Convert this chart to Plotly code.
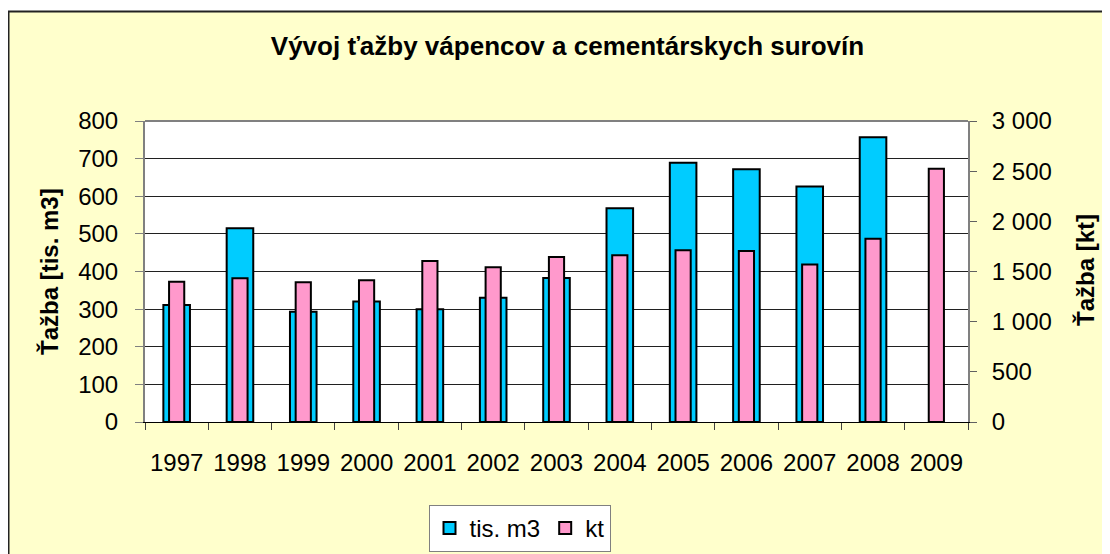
import plotly.graph_objects as go

years = ["1997", "1998", "1999", "2000", "2001", "2002", "2003",
         "2004", "2005", "2006", "2007", "2008", "2009"]
tis_m3 = [311, 515, 293, 320, 300, 330, 383, 568, 689, 672, 626, 757, None]
kt = [1398, 1432, 1392, 1412, 1605, 1542, 1645, 1661, 1711, 1704, 1571, 1827, 2525]

title_text = "Vývoj ťažby vápencov a cementárskych surovín"
left_title = "Ťažba [tis. m3]"
right_title = "Ťažba [kt]"

FONT = "Liberation Sans, Arial, sans-serif"
W, H = 1110, 554
OFF = 8  # page body margin
# plot area in screenshot pixels: x 145..968, y 121..422
L = 145 - OFF
R = W - (968 - OFF)
T = 121 - OFF
B = H - (422 - OFF)
pw, ph = W - L - R, H - T - B

def px_x(p):
    return (p - OFF - L) / pw

def px_y(p):
    return (H - B - (p - OFF)) / ph

fig = go.Figure()
fig.add_trace(go.Bar(
    x=years, y=tis_m3, name="tis. m3", yaxis="y", width=0.42,
    marker=dict(color="#00CCFF", line=dict(color="#000000", width=2)),
))
fig.add_trace(go.Bar(
    x=years, y=kt, name="kt", yaxis="y2", width=0.24,
    marker=dict(color="#FF99CC", line=dict(color="#000000", width=2)),
))

fig.update_layout(
    width=W, height=H,
    margin=dict(l=L, r=R, t=T, b=B, autoexpand=False),
    paper_bgcolor="white", plot_bgcolor="white",
    barmode="overlay",
    separators=", ",
    font=dict(family=FONT, size=24, color="black"),
    title=dict(text="<b>" + title_text + "</b>", x=(567.5 - OFF) / W, xanchor="center",
               y=1 - (46 - OFF) / H, yanchor="middle",
               font=dict(family=FONT, size=26, color="black")),
    xaxis=dict(type="category", tickson="boundaries", ticks="outside", ticklen=7,
               tickcolor="#404040", showline=True, linecolor="#000000", linewidth=1,
               showgrid=False, tickfont=dict(size=24), ticklabelstandoff=19),
    yaxis=dict(range=[0, 800], dtick=100, ticks="outside", ticklen=8,
               tickcolor="#808080", showline=True, linecolor="#808080", linewidth=2,
               showgrid=True, gridcolor="#202020", gridwidth=1, zeroline=False,
               tickfont=dict(size=24), ticklabelstandoff=12),
    yaxis2=dict(range=[0, 3000], dtick=500, overlaying="y", side="right",
                ticks="outside", ticklen=7, tickcolor="#606060",
                showline=True, linecolor="#808080", linewidth=2, showgrid=False,
                zeroline=False, separatethousands=True,
                tickfont=dict(size=24), ticklabelstandoff=10),
    showlegend=True,
    legend=dict(orientation="h", x=px_x(519.5), xanchor="center",
                y=px_y(505), yanchor="top", bgcolor="white",
                bordercolor="#808080", borderwidth=1,
                font=dict(size=24), itemwidth=30, traceorder="normal"),
    shapes=[
        dict(type="rect", xref="paper", yref="paper", layer="below",
             x0=px_x(8.5), x1=px_x(1130), y0=px_y(575), y1=px_y(11.5),
             fillcolor="#FFFFCC", line=dict(color="#222222", width=2)),
        dict(type="rect", xref="paper", yref="paper", layer="below",
             x0=0, x1=1, y0=0, y1=1, fillcolor="white", line=dict(width=0)),
        dict(type="line", xref="paper", yref="paper", x0=0, x1=1, y0=1, y1=1,
             line=dict(color="#808080", width=2)),
    ],
    annotations=[
        dict(text="<b>" + left_title + "</b>", textangle=-90, xref="paper", yref="paper",
             x=px_x(49), y=px_y(272), xanchor="center", yanchor="middle",
             showarrow=False, font=dict(family=FONT, size=24, color="black")),
        dict(text="<b>" + right_title + "</b>", textangle=-90, xref="paper", yref="paper",
             x=px_x(1085), y=px_y(270), xanchor="center", yanchor="middle",
             showarrow=False, font=dict(family=FONT, size=24, color="black")),
    ],
)

fig.write_html("out.html")
